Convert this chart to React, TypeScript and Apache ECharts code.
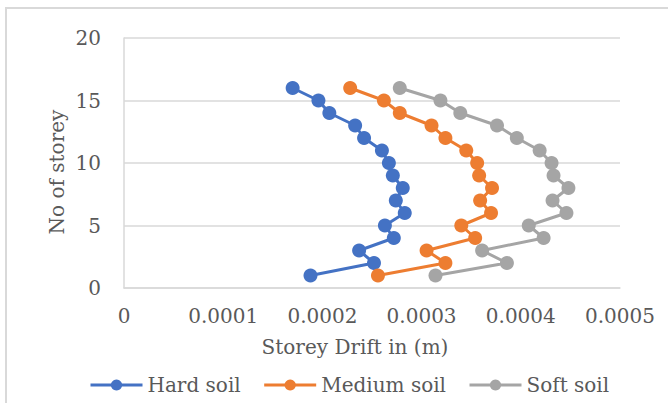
import React, { useEffect, useRef } from "react";
import * as echarts from "echarts";

const storeys = [1, 2, 3, 4, 5, 6, 7, 8, 9, 10, 11, 12, 13, 14, 15, 16];
const hardSoil = [0.000188, 0.000252, 0.000237, 0.000272, 0.000263, 0.000283, 0.000274, 0.000281, 0.000271, 0.000267, 0.00026, 0.000242, 0.000233, 0.000207, 0.000196, 0.00017];
const mediumSoil = [0.000256, 0.000324, 0.000305, 0.000354, 0.00034, 0.00037, 0.000359, 0.000371, 0.000358, 0.000356, 0.000345, 0.000324, 0.00031, 0.000278, 0.000262, 0.000228];
const softSoil = [0.000314, 0.000386, 0.000361, 0.000423, 0.000408, 0.000446, 0.000432, 0.000448, 0.000433, 0.000431, 0.000419, 0.000396, 0.000376, 0.000339, 0.000319, 0.000278];
const seriesNames = ["Hard soil", "Medium soil", "Soft soil"];
const colors = ["#4472C4", "#ED7D31", "#A5A5A5"];
const xTitle = "Storey Drift in (m)";
const yTitle = "No of storey";

const FONT = "DejaVu Serif";
const TXT = "#595959";

export default function App() {
  const ref = useRef<HTMLDivElement>(null);
  useEffect(() => {
    if (!ref.current) return;
    const chart = echarts.init(ref.current, null, { renderer: "svg" });
    const all = [hardSoil, mediumSoil, softSoil];
    chart.setOption({
      animation: false,
      backgroundColor: "#ffffff",
      grid: { left: 124, right: 48, top: 38, bottom: 115, containLabel: false },
      xAxis: {
        type: "value",
        min: 0,
        max: 0.0005,
        interval: 0.0001,
        axisLine: { show: true, lineStyle: { color: "#d9d9d9", width: 1.5 } },
        axisTick: { show: false },
        splitLine: { show: false },
        axisLabel: {
          margin: 18,
          color: TXT,
          fontFamily: FONT,
          fontSize: 20,
          formatter: (v: number) => (v === 0 ? "0" : v.toFixed(4)),
        },
      },
      yAxis: {
        type: "value",
        min: 0,
        max: 20,
        interval: 5,
        axisLine: { show: true, lineStyle: { color: "#d9d9d9", width: 1.5 } },
        axisTick: { show: false },
        splitLine: { show: true, lineStyle: { color: "#d9d9d9", width: 1.5 } },
        axisLabel: { margin: 23, color: TXT, fontFamily: FONT, fontSize: 20 },
      },
      legend: {
        left: 84,
        top: 370,
        itemWidth: 52,
        itemHeight: 14,
        itemGap: 22,
        lineStyle: { width: 3 },
        textStyle: { color: TXT, fontFamily: FONT, fontSize: 20 },
        data: seriesNames,
      },
      graphic: [
        {
          type: "rect",
          shape: { x: 6, y: 8, width: 720, height: 440 },
          style: { fill: "none", stroke: "#d9d9d9", lineWidth: 2 },
          silent: true,
        },
        {
          type: "text",
          x: 355,
          y: 347,
          style: { text: xTitle, fill: TXT, font: `20px "${FONT}"`, textAlign: "center", textVerticalAlign: "middle" },
        },
        {
          type: "text",
          x: 57,
          y: 172,
          rotation: Math.PI / 2,
          style: { text: yTitle, fill: TXT, font: `20px "${FONT}"`, textAlign: "center", textVerticalAlign: "middle" },
        },
      ],
      series: seriesNames.map((name, i) => ({
        name,
        type: "line",
        data: storeys.map((s, j) => [all[i][j], s]),
        symbol: "circle",
        symbolSize: 14,
        lineStyle: { color: colors[i], width: 3 },
        itemStyle: { color: colors[i] },
      })),
    });
    return () => chart.dispose();
  }, []);
  return <div ref={ref} style={{ position: "fixed", left: 0, top: 0, width: 668, height: 403 }} />;
}
